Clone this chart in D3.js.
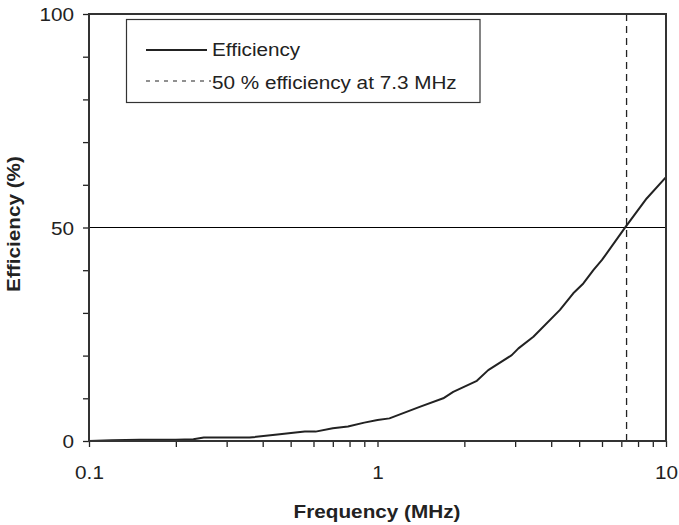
<!DOCTYPE html>
<html>
<head>
<meta charset="utf-8">
<script src="https://cdn.jsdelivr.net/npm/d3@7"></script>
<style>
  html, body { margin: 0; padding: 0; background: #fff; }
  svg { display: block; }
  text { font-family: "Liberation Sans", Arial, Helvetica, sans-serif; fill: #222; }
</style>
</head>
<body>
<script>
// ---- data ----
const freqMHz = [0.1, 0.12, 0.15, 0.2, 0.23, 0.25, 0.3, 0.36, 0.45, 0.52, 0.56, 0.61, 0.7, 0.79, 0.9, 1.0, 1.1, 1.4, 1.69, 1.83, 2.21, 2.42, 2.92, 3.08, 3.47, 4.29, 4.77, 5.17, 5.6, 6.0, 7.2, 8.57, 10];
const efficiency = [0, 0.2, 0.3, 0.3, 0.4, 0.8, 0.8, 0.8, 1.5, 2.0, 2.2, 2.2, 3.0, 3.4, 4.3, 4.9, 5.3, 8.0, 10.0, 11.5, 14.1, 16.6, 20.1, 21.7, 24.4, 30.7, 34.6, 36.9, 40.0, 42.4, 49.9, 56.8, 61.8];
const xMajorTicks = [0.1, 1, 10];
const xTickLabels = ["0.1", "1", "10"];
const yTicks = [0, 10, 20, 30, 40, 50, 60, 70, 80, 90, 100];
const yLabelTicks = [0, 50, 100];
const refEfficiency = 50;
const refFrequency = 7.3;
const legendLabels = ["Efficiency", "50 % efficiency at 7.3 MHz"];
const xTitle = "Frequency (MHz)";
const yTitle = "Efficiency (%)";

// ---- layout ----
const W = 679, H = 525;
const L = 89, R = 666, T = 14, B = 441;
const SX = 1.12; // horizontal stretch of the reference's type
const ink = "#222";

const svg = d3.select("body").append("svg").attr("width", W).attr("height", H);

const x = d3.scaleLog().domain([0.1, 10]).range([L, R]);
const y = d3.scaleLinear().domain([0, 100]).range([B, T]);

// minor log ticks
const xAllTicks = [];
[0.1, 1].forEach(dec => { for (let k = 1; k <= 9; k++) xAllTicks.push(+(dec * k).toFixed(3)); });
xAllTicks.push(10);

// reference lines
svg.append("line")
  .attr("x1", L).attr("x2", R)
  .attr("y1", y(refEfficiency)).attr("y2", y(refEfficiency))
  .attr("stroke", "#000").attr("stroke-width", 1);
svg.append("line")
  .attr("x1", x(refFrequency)).attr("x2", x(refFrequency))
  .attr("y1", T).attr("y2", B)
  .attr("stroke", ink).attr("stroke-width", 1.3)
  .attr("stroke-dasharray", "7,5");

// curve
const pts = freqMHz.map((f, i) => [f, efficiency[i]]);
svg.append("path")
  .datum(pts)
  .attr("fill", "none")
  .attr("stroke", ink)
  .attr("stroke-width", 2)
  .attr("stroke-linejoin", "round")
  .attr("d", d3.line().x(d => x(d[0])).y(d => y(d[1])));

// axes
const fmtX = d => { const i = xMajorTicks.indexOf(d); return i >= 0 ? xTickLabels[i] : ""; };
const gx = svg.append("g").attr("transform", `translate(0,${B})`)
  .call(d3.axisBottom(x).tickValues(xAllTicks).tickFormat(fmtX).tickSize(6).tickPadding(0));
gx.select(".domain").remove();
gx.selectAll(".tick line").attr("stroke", ink).attr("stroke-width", 1.3);
gx.selectAll(".tick text")
  .attr("y", 0).attr("dy", null)
  .attr("transform", `translate(0,37.5) scale(${SX},1)`)
  .style("font-size", "18.5px").attr("fill", ink);

const gy = svg.append("g").attr("transform", `translate(${L},0)`)
  .call(d3.axisLeft(y).tickValues(yTicks)
    .tickFormat(d => yLabelTicks.includes(d) ? String(d) : "").tickSize(6).tickPadding(0));
gy.select(".domain").remove();
gy.selectAll(".tick line").attr("stroke", ink).attr("stroke-width", 1.3);
gy.selectAll(".tick text")
  .attr("x", 0).attr("dy", "0.36em")
  .attr("transform", `translate(-15,0) scale(${SX},1)`)
  .style("font-size", "18.5px").attr("fill", ink);

// frame
svg.append("rect")
  .attr("x", L).attr("y", T).attr("width", R - L).attr("height", B - T)
  .attr("fill", "none").attr("stroke", "#333").attr("stroke-width", 2);

// axis titles
svg.append("text")
  .attr("transform", `translate(377,517.5) scale(${SX},1)`)
  .attr("text-anchor", "middle")
  .style("font-size", "18.5px").style("font-weight", "bold")
  .text(xTitle);
svg.append("text")
  .attr("transform", `translate(20,224) rotate(-90) scale(${SX},1)`)
  .attr("text-anchor", "middle")
  .style("font-size", "18.5px").style("font-weight", "bold")
  .text(yTitle);

// legend
const lg = svg.append("g");
lg.append("rect")
  .attr("x", 126.5).attr("y", 19.5).attr("width", 353.5).attr("height", 83)
  .attr("fill", "#fff").attr("stroke", "#333").attr("stroke-width", 1.2);
lg.append("line").attr("x1", 146).attr("x2", 207).attr("y1", 50).attr("y2", 50)
  .attr("stroke", ink).attr("stroke-width", 2);
lg.append("line").attr("x1", 146).attr("x2", 211).attr("y1", 81).attr("y2", 81)
  .attr("stroke", ink).attr("stroke-width", 1.2).attr("stroke-dasharray", "4,5");
legendLabels.forEach((t, i) => {
  lg.append("text")
    .attr("transform", `translate(212,${56 + i * 33}) scale(${SX},1)`)
    .style("font-size", "18.5px")
    .text(t);
});
</script>
</body>
</html>
